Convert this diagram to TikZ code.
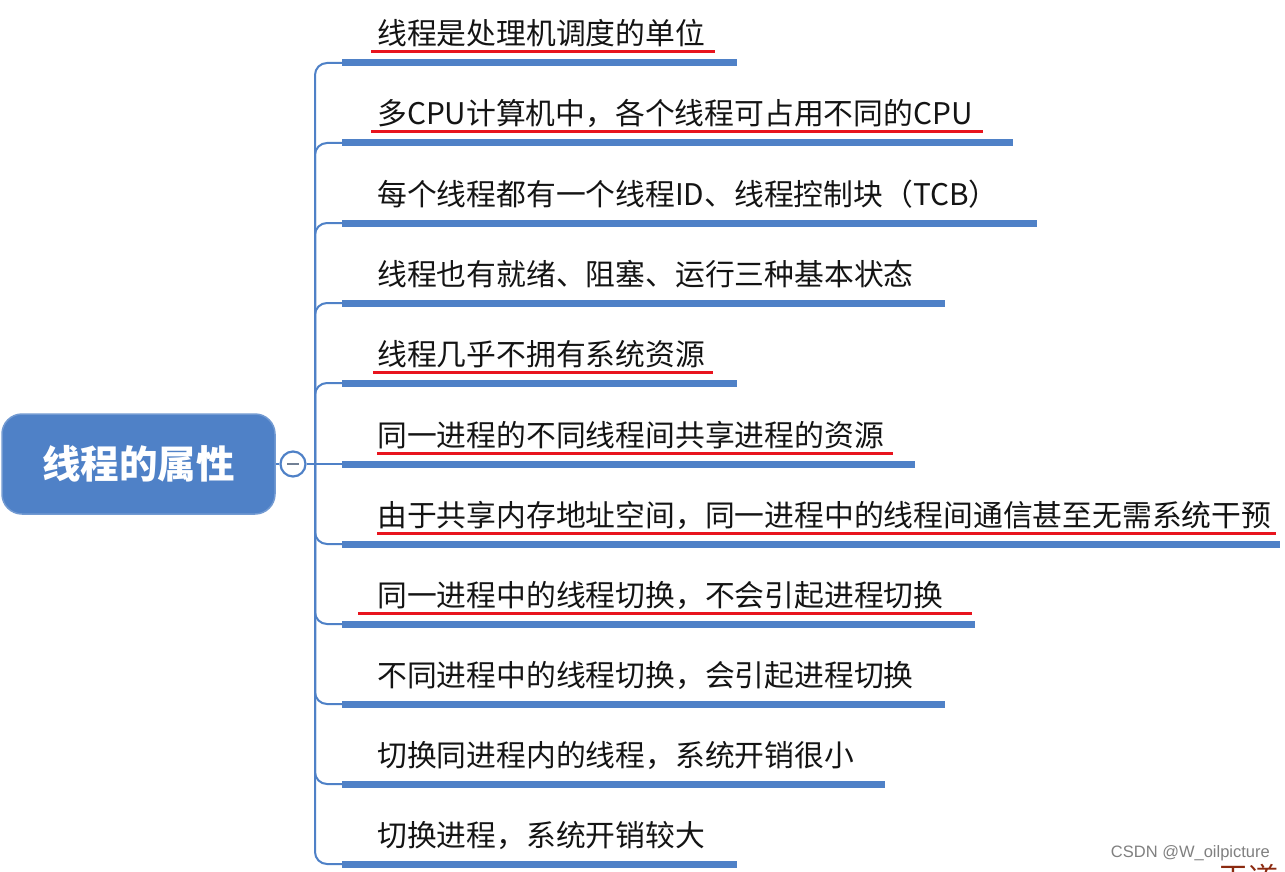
\documentclass[tikz,border=0pt]{standalone}
\usepackage{fontspec}
\setmainfont{Noto Sans CJK SC}
\newfontfamily\wmfont{Liberation Sans}
\definecolor{mapblue}{HTML}{4F81C7}
\definecolor{ulred}{HTML}{E8141E}
\definecolor{txt}{HTML}{141414}
\definecolor{wdred}{HTML}{8B2A10}
\begin{document}
\begin{tikzpicture}[x=1pt,y=-1pt,
  bar/.style={line width=7pt, draw=mapblue},
  conn/.style={draw=mapblue, line width=2pt, rounded corners=12pt},
  item/.style={anchor=base west, inner sep=0pt, font=\fontsize{29.8}{32}\selectfont, text=txt},
  uline/.style={draw=ulred, line width=3pt},
  rootbox/.style={rectangle, rounded corners=20pt, fill=mapblue, draw=mapblue!80!white, line width=1.5pt,
    minimum width=273pt, minimum height=100pt, text=white, font=\fontsize{38.5}{40}\selectfont\bfseries},
  collapse/.style={circle, draw=mapblue, fill=white, line width=2.2pt, minimum size=25pt, inner sep=0pt}
]
\useasboundingbox[fill=white] (0,0) rectangle (1285,872);

% root
\node[rootbox] (root) at (138.5,464) {线程的属性};
\node[collapse] (col) at (293,464) {};
\draw[line width=2pt, color=gray!70!mapblue] ([xshift=-6pt]col.center) -- ([xshift=6pt]col.center);
\coordinate (j) at (315,464);
\draw[conn] (root.east) -- (col.west);
\draw[conn] (col.east) -- (j);

% bar start / end coordinates
\coordinate (b1) at (342,63);   \coordinate (e1) at (737,63);
\coordinate (b2) at (342,143);  \coordinate (e2) at (1013,143);
\coordinate (b3) at (342,223);  \coordinate (e3) at (1037,223);
\coordinate (b4) at (342,303);  \coordinate (e4) at (945,303);
\coordinate (b5) at (342,383);  \coordinate (e5) at (737,383);
\coordinate (b6) at (342,464);  \coordinate (e6) at (915,464);
\coordinate (b7) at (342,544);  \coordinate (e7) at (1280,544);
\coordinate (b8) at (342,624);  \coordinate (e8) at (975,624);
\coordinate (b9) at (342,704);  \coordinate (e9) at (945,704);
\coordinate (b10) at (342,784); \coordinate (e10) at (885,784);
\coordinate (b11) at (342,864); \coordinate (e11) at (737,864);

% connectors
\foreach \i in {1,2,3,4,5,7,8,9,10,11} {\draw[conn] (j) |- (b\i);}
\draw[conn] (j) -- (b6);

% bars
\foreach \i in {1,...,11} {\draw[bar] (b\i) -- (e\i);}

% texts
\node[item] (t1) at (377,45) {线程是处理机调度的单位};
\node[item] (t2) at (377,125) {多CPU计算机中，各个线程可占用不同的CPU};
\node[item] (t3) at (377,205) {每个线程都有一个线程ID、线程控制块（TCB）};
\node[item] (t4) at (377,285) {线程也有就绪、阻塞、运行三种基本状态};
\node[item] (t5) at (377,365) {线程几乎不拥有系统资源};
\node[item] (t6) at (377,446) {同一进程的不同线程间共享进程的资源};
\node[item] (t7) at (377,526) {由于共享内存地址空间，同一进程中的线程间通信甚至无需系统干预};
\node[item] (t8) at (377,606) {同一进程中的线程切换，不会引起进程切换};
\node[item] (t9) at (377,686) {不同进程中的线程切换，会引起进程切换};
\node[item] (t10) at (377,766) {切换同进程内的线程，系统开销很小};
\node[item] (t11) at (377,846) {切换进程，系统开销较大};

% red underlines
\draw[uline] (371,52) -- (715,52);
\draw[uline] (371,132) -- (983,132);
\draw[uline] (373,372) -- (713,372);
\draw[uline] (377,453) -- (893,453);
\draw[uline] (377,533) -- (1276,533);
\draw[uline] (358,613) -- (972,613);

% watermark
\node[anchor=east, inner sep=0pt, font=\wmfont\fontsize{16.5}{18}\selectfont, text=gray] (wm) at (1270,853) {CSDN @W\_oilpicture};
\begin{scope}
\clip (0,0) rectangle (1285,872);
\node[anchor=north west, inner sep=0pt, font=\fontsize{30}{32}\selectfont, text=wdred] (wd) at (1218,864) {王道};
\end{scope}
\end{tikzpicture}
\end{document}
